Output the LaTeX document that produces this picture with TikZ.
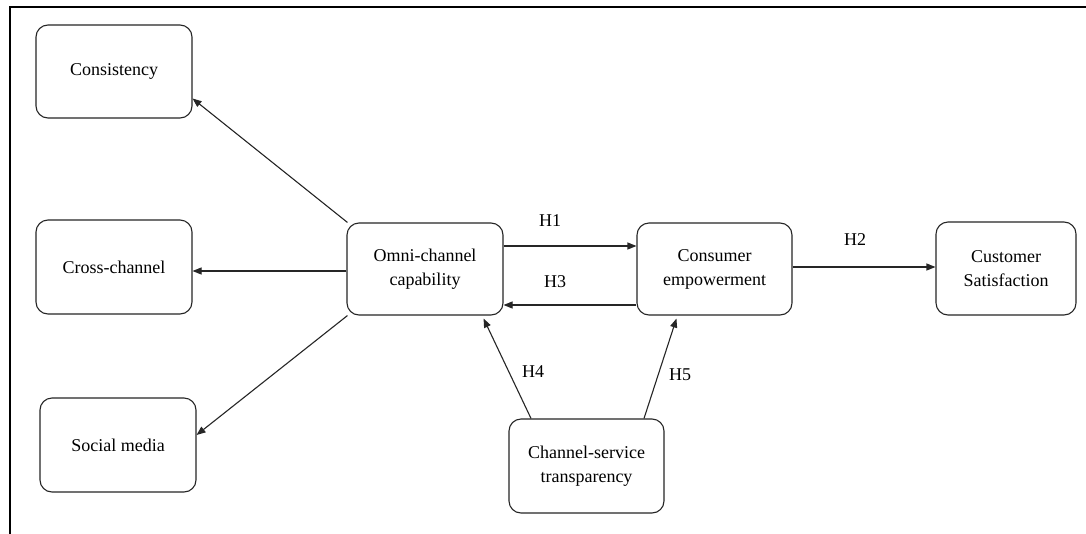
\documentclass[tikz,border=0pt]{standalone}
\usepackage{fontspec}
\setmainfont{Liberation Serif}
\usetikzlibrary{arrows.meta}
\begin{document}
\begin{tikzpicture}[x=1pt,y=-1pt,
  box/.style={draw=black!85, rounded corners=12pt, line width=1.1pt, align=center,
    font=\rmfamily\fontsize{18}{24}\selectfont, inner sep=0pt},
  arr/.style={draw=black!85, line width=1.1pt, -{Triangle[length=9pt,width=7pt]}},
  hlab/.style={font=\rmfamily\fontsize{18}{22}\selectfont, inner sep=0pt}]
\useasboundingbox (0,0) rectangle (1086,533);
\fill[white] (0,0) rectangle (1086,533);
% outer frame (cropped)
\draw[line width=2.2pt] (10,540) -- (10,7) -- (1090,7);
% nodes
\node[box, minimum width=156pt, minimum height=93pt] (cons) at (114,71.5) {Consistency};
\node[box, minimum width=156pt, minimum height=94pt] (cross) at (114,267) {Cross-channel};
\node[box, minimum width=156pt, minimum height=94pt] (social) at (118,445) {Social media};
\node[box, minimum width=156pt, minimum height=92pt] (omni) at (425,269) {Omni-channel\\capability};
\node[box, minimum width=155pt, minimum height=92pt] (emp) at (714.5,269) {Consumer\\empowerment};
\node[box, minimum width=140pt, minimum height=93pt] (sat) at (1006,268.5) {Customer\\Satisfaction};
\node[box, minimum width=155pt, minimum height=94pt] (trans) at (586.5,466) {Channel-service\\transparency};
% connectors
\draw[arr] ([xshift=1pt]omni.north west) -- ([yshift=-27pt]cons.east);
\draw[arr] ([yshift=-2pt]omni.west) -- ([yshift=-2pt]omni.west -| cross.east);
\draw[arr] ([xshift=1pt]omni.south west) -- ([yshift=10pt]social.east);
\draw[arr] ([yshift=23pt]omni.east) -- ([yshift=23pt]emp.west);
\draw[arr] ([yshift=-36pt]emp.west) -- ([yshift=-36pt]omni.east);
\draw[arr] ([yshift=2pt]emp.east) -- ([yshift=2pt]emp.east -| sat.west);
\draw[arr] ([xshift=-55.5pt]trans.north) -- ([xshift=-20pt,yshift=-3pt]omni.south east);
\draw[arr] ([xshift=57.5pt]trans.north) -- ([xshift=40pt,yshift=-3pt]emp.south west);
% labels
\node[hlab] (h1) at (550,221) {H1};
\node[hlab] (h3) at (555,282) {H3};
\node[hlab] (h2) at (855,240) {H2};
\node[hlab] (h4) at (533,372) {H4};
\node[hlab] (h5) at (680,375) {H5};
\end{tikzpicture}
\end{document}
